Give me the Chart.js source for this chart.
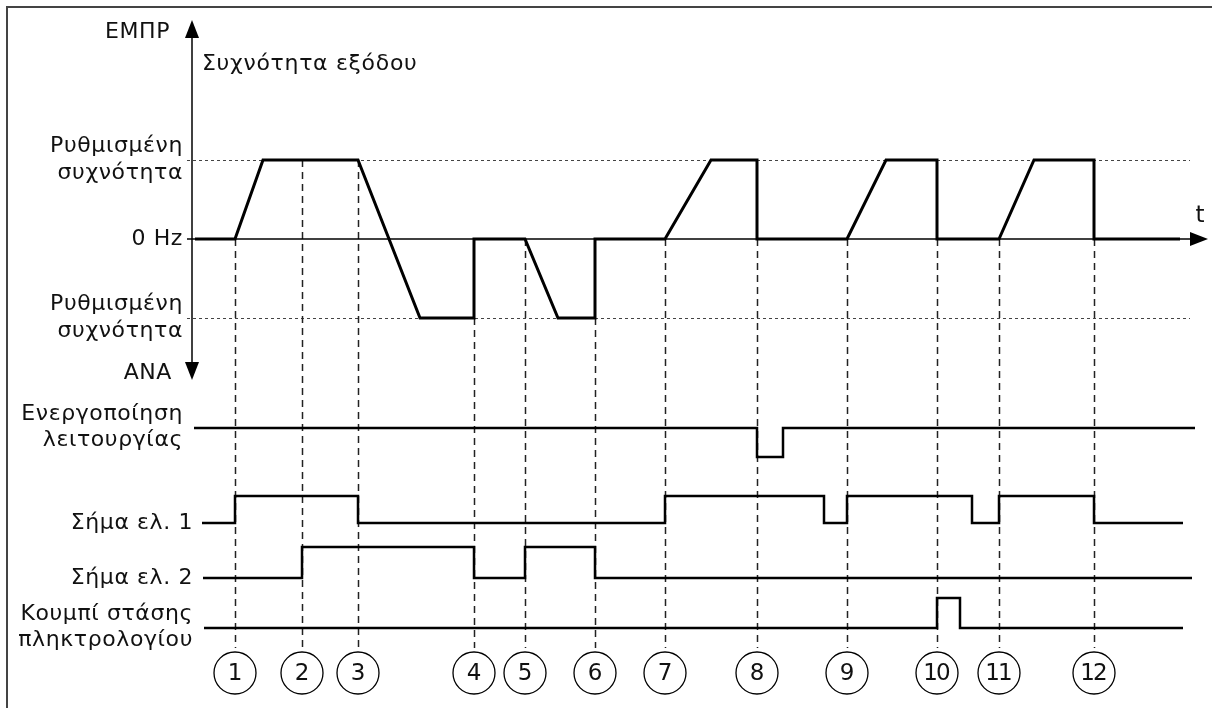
<!DOCTYPE html>
<html>
<head>
<meta charset="utf-8">
<script src="https://cdn.jsdelivr.net/npm/chart.js@4.4.1/dist/chart.umd.min.js"></script>
<style>
  html, body { margin: 0; padding: 0; background: #fff; }
  #wrap { width: 1212px; height: 708px; }
</style>
</head>
<body>
<div id="wrap"><canvas id="timing" width="1212" height="708"></canvas></div>
<script>
// event instants (numbered circles along the bottom)
var eventTimes = [0.86, 2.2, 3.32, 5.64, 6.66, 8.06, 9.46, 11.3, 13.1, 14.9, 16.14, 18.04];
var eventLabels = ['1', '2', '3', '4', '5', '6', '7', '8', '9', '10', '11', '12'];

// output frequency: +1 = set frequency forward, -1 = set frequency reverse
var freqTime  = [0.06, 0.86, 1.42, 3.32, 4.56, 5.64, 5.64, 6.66, 7.32, 8.06, 8.06, 9.46, 10.38, 11.3, 11.3, 13.1, 13.88, 14.9, 14.9, 16.14, 16.84, 18.04, 18.04, 19.76];
var freqValue = [0,    0,    1,    1,    -1,   -1,   0,    0,    -1,   -1,   0,    0,    1,     1,    0,    0,    1,     1,    0,    0,     1,     1,     0,     0];

// digital inputs, level switches at each time (stepped)
var enableTime  = [0.04, 11.3, 11.82, 20.06];
var enableLevel = [1,    0,    1,     1];
var dir1Time  = [0.2, 0.86, 3.32, 9.46, 12.64, 13.1, 15.6, 16.14, 18.04, 19.82];
var dir1Level = [0,   1,    0,    1,    0,     1,    0,    1,     0,     0];
var dir2Time  = [0.22, 2.2, 5.64, 6.66, 8.06, 20.0];
var dir2Level = [0,    1,   0,    1,    0,    0];
var stopTime  = [0.24, 14.9, 15.36, 19.82];
var stopLevel = [0,    1,    0,     0];

var freqTicks = [
  { v: 1,  text: ['Ρυθμισμένη', 'συχνότητα'] },
  { v: 0,  text: ['0 Hz'] },
  { v: -1, text: ['Ρυθμισμένη', 'συχνότητα'] }
];

// lane layout (px from top) for the digital rows
var lanes = [
  { name: ['Ενεργοποίηση', 'λειτουργίας'], t: enableTime, l: enableLevel, base: 457, amp: 29, labelY: 427, labelX: 183 },
  { name: ['Σήμα ελ. 1'], t: dir1Time, l: dir1Level, base: 523, amp: 27, labelY: 523, labelX: 193 },
  { name: ['Σήμα ελ. 2'], t: dir2Time, l: dir2Level, base: 578, amp: 31, labelY: 578, labelX: 193 },
  { name: ['Κουμπί στάσης', 'πληκτρολογίου'], t: stopTime, l: stopLevel, base: 628, amp: 30, labelY: 627, labelX: 193 }
];

var W = 1212, H = 708;
var axisLeft = 192, zeroPx = 239, unitPx = 79, circleY = 673, circleR = 21;
var FONT = '"DejaVu Sans", Verdana, sans-serif';

function pts(ts, vs, fn) {
  return ts.map(function (t, i) { return { x: t, y: fn ? fn(vs[i]) : vs[i] }; });
}

// lowest frequency value at time t (where the dashed marker starts)
function freqMinAt(t) {
  var best = null;
  for (var i = 0; i < freqTime.length - 1; i++) {
    var a = freqTime[i], b = freqTime[i + 1];
    if (t < a - 1e-6 || t > b + 1e-6) continue;
    var v = b === a ? Math.min(freqValue[i], freqValue[i + 1])
      : freqValue[i] + (freqValue[i + 1] - freqValue[i]) * (t - a) / (b - a);
    if (best === null || v < best) best = v;
  }
  return best;
}

function text(ctx, lines, x, y, align, size, lh, spacing) {
  ctx.save();
  ctx.fillStyle = '#111';
  ctx.font = size + 'px ' + FONT;
  ctx.textAlign = align;
  ctx.textBaseline = 'middle';
  if (ctx.letterSpacing !== undefined) ctx.letterSpacing = (spacing || 0) + 'px';
  var y0 = y - (lines.length - 1) * lh / 2;
  lines.forEach(function (s, i) { ctx.fillText(s, x, y0 + i * lh); });
  ctx.restore();
}

function tri(ctx, a, b, c) {
  ctx.beginPath();
  ctx.moveTo(a[0], a[1]); ctx.lineTo(b[0], b[1]); ctx.lineTo(c[0], c[1]);
  ctx.closePath();
  ctx.fill();
}

var decor = {
  id: 'decor',
  beforeDatasetsDraw: function (chart) {
    var ctx = chart.ctx, xs = chart.scales.x, ys = chart.scales.y, area = chart.chartArea;
    ctx.save();
    // frame
    ctx.strokeStyle = '#444';
    ctx.lineWidth = 2;
    ctx.beginPath();
    ctx.moveTo(7, H); ctx.lineTo(7, 7); ctx.lineTo(W, 7);
    ctx.stroke();

    // dotted set frequency levels
    ctx.strokeStyle = '#444';
    ctx.lineWidth = 1;
    ctx.setLineDash([3, 3]);
    [1, -1].forEach(function (v) {
      var y = Math.round(ys.getPixelForValue(v)) + 0.5;
      ctx.beginPath(); ctx.moveTo(area.left - 5, y); ctx.lineTo(area.right - 22, y); ctx.stroke();
    });

    // dashed event markers
    ctx.strokeStyle = '#222';
    ctx.lineWidth = 1.5;
    ctx.setLineDash([7, 5]);
    eventTimes.forEach(function (t) {
      var x = Math.round(xs.getPixelForValue(t)) + 0.5;
      var y0 = ys.getPixelForValue(freqMinAt(t));
      ctx.beginPath(); ctx.moveTo(x, y0); ctx.lineTo(x, circleY - circleR - 4); ctx.stroke();
    });
    ctx.setLineDash([]);

    // axes
    ctx.strokeStyle = '#000';
    ctx.fillStyle = '#000';
    ctx.lineWidth = 1.5;
    var y0 = ys.getPixelForValue(0);
    ctx.beginPath(); ctx.moveTo(area.left - 5, y0); ctx.lineTo(area.right - 20, y0); ctx.stroke();
    tri(ctx, [area.right - 22, y0 - 7], [area.right - 4, y0], [area.right - 22, y0 + 7]);
    ctx.beginPath(); ctx.moveTo(axisLeft, 36); ctx.lineTo(axisLeft, 364); ctx.stroke();
    tri(ctx, [axisLeft - 7, 38], [axisLeft, 20], [axisLeft + 7, 38]);
    tri(ctx, [axisLeft - 7, 362], [axisLeft, 380], [axisLeft + 7, 362]);
    ctx.restore();
  },
  afterDatasetsDraw: function (chart) {
    var ctx = chart.ctx, xs = chart.scales.x, ys = chart.scales.y;
    text(ctx, ['ΕΜΠΡ'], 170, 32, 'right', 22, 26, 0.6);
    text(ctx, ['ΑΝΑ'], 172, 373, 'right', 22, 26, 0.6);
    text(ctx, ['Συχνότητα εξόδου'], 202, 64, 'left', 22, 26, 0.7);
    text(ctx, ['t'], 1200, 216, 'center', 23, 26, 0);
    freqTicks.forEach(function (tk) {
      text(ctx, tk.text, 183, ys.getPixelForValue(tk.v), 'right', 22, 27, 0.6);
    });
    lanes.forEach(function (ln) {
      text(ctx, ln.name, ln.labelX, ln.labelY, 'right', 22, 26, 0.6);
    });
    // numbered circles
    ctx.save();
    ctx.strokeStyle = '#000';
    ctx.lineWidth = 1.3;
    eventTimes.forEach(function (t, i) {
      var x = xs.getPixelForValue(t);
      ctx.beginPath(); ctx.arc(x, circleY, circleR, 0, Math.PI * 2); ctx.stroke();
      ctx.fillStyle = '#111';
      ctx.font = '23px ' + FONT;
      ctx.textAlign = 'center';
      ctx.textBaseline = 'middle';
      if (ctx.letterSpacing !== undefined) ctx.letterSpacing = eventLabels[i].length > 1 ? '-2px' : '0px';
      ctx.fillText(eventLabels[i], x + (eventLabels[i].length > 1 ? -1 : 0), circleY + 1);
    });
    ctx.restore();
  }
};

var datasets = [{
  label: 'Συχνότητα εξόδου',
  data: pts(freqTime, freqValue),
  yAxisID: 'y',
  borderColor: '#000',
  borderWidth: 3,
  pointRadius: 0,
  tension: 0,
  borderJoinStyle: 'miter',
  clip: false
}];
lanes.forEach(function (ln) {
  datasets.push({
    label: ln.name.join(' '),
    data: pts(ln.t, ln.l, function (v) { return ln.base - v * ln.amp; }),
    yAxisID: 'lane',
    borderColor: '#000',
    borderWidth: 2.5,
    pointRadius: 0,
    stepped: true,
    borderJoinStyle: 'miter',
    clip: false
  });
});

new Chart(document.getElementById('timing'), {
  type: 'line',
  data: { datasets: datasets },
  options: {
    responsive: false,
    devicePixelRatio: 1,
    animation: false,
    events: [],
    layout: { padding: { left: axisLeft, right: 0, top: 0, bottom: 0 } },
    plugins: { legend: { display: false }, tooltip: { enabled: false } },
    scales: {
      x: { type: 'linear', display: false, min: 0, max: (W - axisLeft) / 50 },
      y: { type: 'linear', display: false, min: (zeroPx - H) / unitPx, max: zeroPx / unitPx },
      lane: { type: 'linear', display: false, min: 0, max: H, reverse: true }
    }
  },
  plugins: [decor]
});
</script>
</body>
</html>
